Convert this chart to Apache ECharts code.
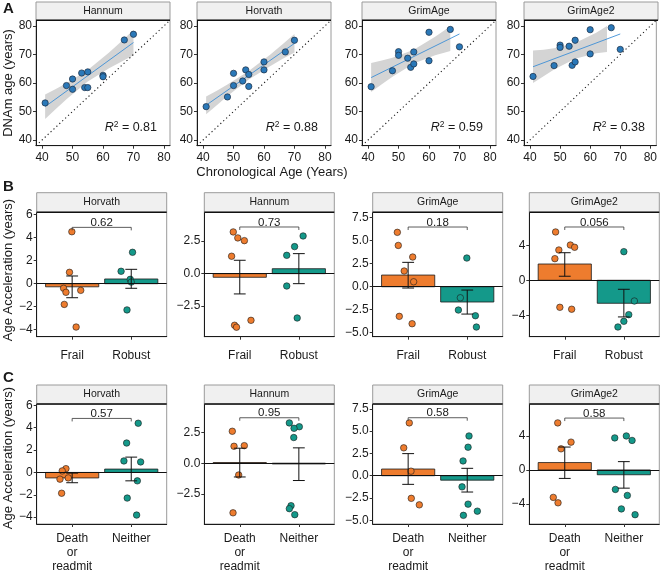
<!DOCTYPE html>
<html><head><meta charset="utf-8">
<script src="https://cdn.jsdelivr.net/npm/echarts@6/dist/echarts.min.js"></script>
<style>html,body{margin:0;padding:0;background:#fff}#c{width:660px;height:574px}</style>
</head><body><div id="c"></div>
<script>
// ---------------- Row A data ----------------
const rowAClocks = ['Hannum', 'Horvath', 'GrimAge', 'GrimAge2'];
const axisTicksA = [40, 50, 60, 70, 80];
const identityLine = [[38, 38], [82, 82]];
const chronAge = [41, 48, 50, 50, 53, 54, 55, 55, 60, 60, 67, 70];
const hannumDNAm = [53.0, 59.1, 61.4, 57.8, 63.5, 58.4, 63.9, 58.4, 62.7, 62.2, 75.1, 77.1];
const horvathDNAm = [51.7, 55.1, 63.4, 59.1, 60.7, 64.6, 63.0, 58.8, 67.4, 64.6, 70.9, 75.0];
const grimAgeDNAm = [58.7, 64.3, 71.0, 69.7, 68.7, 65.5, 70.9, 66.7, 77.8, 67.8, 78.8, 72.7];
const grimAge2DNAm = [62.3, 66.1, 73.3, 72.5, 72.9, 66.2, 75.0, 67.4, 78.7, 70.2, 79.4, 71.8];
const fitX = [41, 70];
const hannumFit = [51.7, 74.2];
const horvathFit = [52.2, 73.9];
const grimAgeFit = [61.9, 77.2];
const grimAge2Fit = [65.7, 77.2];
const hannumBandX = [41, 44.5, 48, 55, 62, 66, 70];
const hannumBandLo = [47.4, 50.9, 54.3, 60.5, 65.2, 67.5, 69.7];
const hannumBandHi = [56.0, 57.9, 59.9, 64.6, 70.7, 74.6, 78.6];
const horvathBandX = [41, 44.5, 48, 55, 62, 66, 70];
const horvathBandLo = [49.0, 52.2, 55.4, 61.2, 65.9, 68.4, 70.7];
const horvathBandHi = [55.3, 57.3, 59.5, 64.2, 69.9, 73.5, 77.2];
const grimAgeBandX = [41, 44.5, 48, 55, 62, 65, 67];
const grimAgeBandLo = [56.8, 59.6, 62.2, 66.8, 69.7, 70.6, 71.2];
const grimAgeBandHi = [67.0, 67.9, 68.9, 71.7, 76.2, 78.4, 80.0];
const grimAge2BandX = [41, 44.5, 48, 55, 62, 65.6];
const grimAge2BandLo = [60.0, 62.4, 64.7, 68.5, 70.4, 70.9];
const grimAge2BandHi = [71.4, 71.7, 72.2, 74.0, 77.6, 80.0];
const r2Labels = ['0.81', '0.88', '0.59', '0.38'];

// ---------------- Rows B / C data ----------------
const groupClocks = ['Horvath', 'Hannum', 'GrimAge', 'GrimAge2'];
const frailtyLabels = ['Frail', 'Robust'];
const outcomeLabels = ['Death\nor\nreadmit', 'Neither'];
const yTicksBC = [[-4, -2, 0, 2, 4, 6], [-2.5, 0, 2.5], [-5, -2.5, 0, 2.5, 5, 7.5], [-4, 0, 4]];
const yDecimals = [0, 1, 1, 0];
const yRangeB = [[-4.61, 6.21], [-4.85, 4.72], [-5.43, 8.09], [-6.45, 7.77]];
const yRangeC = [[-4.61, 6.12], [-4.95, 4.82], [-5.42, 8.05], [-6.38, 7.78]];

const frailMeans = [[-0.27, 0.41], [-0.28, 0.38], [1.27, -1.66], [1.86, -2.63]];
const frailErrLo = [[-1.22, -0.40], [-1.56, -0.77], [-0.14, -2.97], [0.46, -4.19]];
const frailErrHi = [[0.67, 1.25], [1.03, 1.54], [2.65, -0.36], [3.15, -1.03]];
const frailPValues = ['0.62', '0.73', '0.18', '0.056'];
const frailBracketY = [4.9, 3.59, 6.49, 6.09];
const frailPoints = [
  [[0.995, 4.52], [0.955, 0.99], [0.855, -0.40], [0.895, -0.75], [1.145, -0.58], [0.867, -1.80], [1.067, -3.77]],
  [[0.89, 3.21], [0.967, 2.75], [1.078, 2.54], [0.862, 1.34], [0.912, -3.97], [0.945, -4.12], [1.19, -3.59]],
  [[0.817, 5.91], [0.833, 4.49], [1.077, 3.23], [0.933, 1.71], [1.093, 0.54], [0.85, -3.22], [1.067, -4.02]],
  [[0.845, 5.52], [1.095, 4.03], [1.167, 3.77], [0.9, 3.46], [0.833, 2.47], [0.917, -3.09], [1.117, -3.31]]
];
const robustPoints = [
  [[2.022, 2.73], [1.828, 1.08], [1.983, 0.38], [2.0, 0.14], [1.928, -2.28]],
  [[2.072, 2.90], [1.928, 2.08], [1.795, 1.41], [1.795, -0.95], [1.972, -3.41]],
  [[1.993, 3.12], [1.883, -1.20], [1.85, -2.53], [2.138, -3.15], [2.155, -4.38]],
  [[2.0, 3.27], [2.178, -2.37], [2.083, -3.93], [2.0, -4.69], [1.9, -5.34]]
];

const outcomeMeans = [[-0.49, 0.30], [0.05, -0.06], [0.75, -0.50], [0.87, -0.57]];
const outcomeErrLo = [[-0.92, -0.75], [-1.12, -1.41], [-0.97, -1.83], [-1.00, -2.15]];
const outcomeErrHi = [[-0.06, 1.37], [1.22, 1.25], [2.48, 0.83], [2.70, 0.98]];
const outcomePValues = ['0.57', '0.95', '0.58', '0.58'];
const outcomeBracketY = [4.83, 3.7, 6.51, 6.12];
const deathPoints = [
  [[0.895, 0.34], [0.832, 0.14], [0.934, -0.49], [0.794, -0.60], [0.822, -1.86]],
  [[0.874, 2.60], [0.903, 1.38], [1.077, 1.43], [0.982, -0.96], [0.886, -4.04]],
  [[1.019, 5.93], [0.925, 3.13], [1.048, 0.51], [1.053, -2.54], [1.189, -3.27]],
  [[0.881, 5.55], [1.106, 3.28], [0.937, 2.49], [0.806, -3.24], [0.886, -3.88]]
];
const neitherPoints = [
  [[2.118, 4.40], [1.922, 2.63], [1.876, 1.03], [2.159, 0.94], [2.103, -0.75], [1.932, -2.29], [2.091, -3.81]],
  [[1.839, 3.28], [2.008, 2.97], [1.919, 2.84], [1.914, 2.09], [1.868, -3.46], [1.839, -3.70], [1.931, -4.19]],
  [[2.03, 4.46], [2.014, 3.20], [1.929, 1.66], [1.912, -1.25], [2.014, -3.19], [2.171, -3.98], [1.935, -4.45]],
  [[2.042, 4.01], [1.846, 3.78], [2.139, 3.48], [1.857, -2.30], [2.059, -3.01], [1.958, -4.60], [2.19, -5.28]]
];

// ---------------- styling / layout ----------------
const FONT = '"Liberation Sans", Arial, Helvetica, sans-serif';
const TXT = '#1a1a1a';
const ORANGE = '#EE7C2E';
const TEAL = '#14998A';
const groupColors = [ORANGE, TEAL];

const grids = [], xAxes = [], yAxes = [], series = [], graphics = [];

function addStrip(left, top, width, height, text) {
  graphics.push({type: 'rect', silent: true, z: 10,
    shape: {x: left, y: top, width: width, height: height},
    style: {fill: '#f0f0f0', stroke: '#9a9a9a', lineWidth: 1}});
  graphics.push({type: 'line', silent: true, z: 11,
    shape: {x1: left, y1: top + height, x2: left + width, y2: top + height},
    style: {stroke: '#111', lineWidth: 1.6}});
  graphics.push({type: 'text', silent: true, z: 12, x: left + width / 2, y: top + height / 2,
    style: {text: text, fill: TXT, font: '10.5px ' + FONT,
      textAlign: 'center', textVerticalAlign: 'middle', align: 'center', verticalAlign: 'middle'}});
}
function addText(x, y, text, size, opts) {
  opts = opts || {};
  graphics.push(Object.assign({type: 'text', silent: true, z: 12, x: x, y: y,
    style: {text: text, fill: TXT, font: (opts.bold ? 'bold ' : '') + size + 'px ' + FONT,
      textAlign: opts.align || 'center', align: opts.align || 'center',
      textVerticalAlign: opts.valign || 'middle', verticalAlign: opts.valign || 'middle',
      rich: opts.rich}}, opts.rotation !== undefined ? {rotation: opts.rotation} : {}));
}
function baseAxis(g, min, max, ticks, fmt, margin, lh) {
  return {gridIndex: g, type: 'value', min: min, max: max,
    axisLine: {show: true, onZero: false, lineStyle: {color: TXT, width: 1}},
    axisTick: {show: true, length: 3, customValues: ticks, lineStyle: {color: '#333', width: 1}},
    axisLabel: {customValues: ticks, formatter: fmt, color: TXT, fontSize: 12, fontFamily: FONT,
      margin: margin, lineHeight: lh || 14},
    splitLine: {show: false}};
}
function fmtNum(v, dec) { const s = Math.abs(v).toFixed(dec); return (v < -1e-9 ? '\u2212' : '') + s; }

// ---------------- Row A ----------------
const aLefts = [36, 197, 362, 524];
const aTop = 20.3, aW = 134, aH = 125.4;
const aY = [hannumDNAm, horvathDNAm, grimAgeDNAm, grimAge2DNAm];
const aFit = [hannumFit, horvathFit, grimAgeFit, grimAge2Fit];
const aBX = [hannumBandX, horvathBandX, grimAgeBandX, grimAge2BandX];
const aBLo = [hannumBandLo, horvathBandLo, grimAgeBandLo, grimAge2BandLo];
const aBHi = [hannumBandHi, horvathBandHi, grimAgeBandHi, grimAge2BandHi];

rowAClocks.forEach((name, i) => {
  const g = grids.length;
  grids.push({left: aLefts[i], top: aTop, width: aW, height: aH, show: true,
    borderColor: '#9a9a9a', borderWidth: 1, containLabel: false});
  xAxes.push(baseAxis(g, 38, 82, axisTicksA, v => String(v), 5));
  yAxes.push(baseAxis(g, 38, 82, axisTicksA, v => String(v), 4));
  addStrip(aLefts[i], 2, aW, aTop - 2, name);
  const bx = aBX[i], lo = aBLo[i], hi = aBHi[i];
  series.push({type: 'custom', xAxisIndex: g, yAxisIndex: g, z: 1, silent: true,
    data: bx.map((x, k) => [x, lo[k], hi[k]]), encode: {x: 0, y: [1, 2]},
    renderItem: (params, api) => {
      if (params.dataIndex !== 0) return null;
      const pts = [];
      for (let k = 0; k < bx.length; k++) pts.push(api.coord([bx[k], hi[k]]));
      for (let k = bx.length - 1; k >= 0; k--) pts.push(api.coord([bx[k], lo[k]]));
      return {type: 'polygon', shape: {points: pts}, style: {fill: '#d4d4d4'}};
    }});
  series.push({type: 'line', xAxisIndex: g, yAxisIndex: g, z: 2, silent: true, symbol: 'none',
    data: identityLine, lineStyle: {color: TXT, width: 1.1, type: [1.2, 2.8]}});
  series.push({type: 'line', xAxisIndex: g, yAxisIndex: g, z: 3, silent: true, symbol: 'none',
    data: fitX.map((x, k) => [x, aFit[i][k]]), lineStyle: {color: '#3d8fd6', width: 0.9}});
  series.push({type: 'scatter', xAxisIndex: g, yAxisIndex: g, z: 4, silent: true, symbolSize: 6.3,
    data: chronAge.map((x, k) => [x, aY[i][k]]),
    itemStyle: {color: '#2a78b8', borderColor: '#1c2e44', borderWidth: 0.7, opacity: 1}});
  addText(aLefts[i] + aW - 13, 128, '{i|R}{s|2}{n| = ' + r2Labels[i] + '}', 12,
    {align: 'right', rich: {
      i: {fontStyle: 'italic', fontSize: 12.5, fontFamily: FONT, fill: TXT, color: TXT, lineHeight: 16},
      s: {fontSize: 8.5, fontFamily: FONT, fill: TXT, color: TXT, lineHeight: 16, verticalAlign: 'top', padding: [0, 0, 7, 0]},
      n: {fontSize: 12.5, fontFamily: FONT, fill: TXT, color: TXT, lineHeight: 16}}});
});

// ---------------- Rows B, C ----------------
const bcLefts = [36.7, 204.3, 372.7, 529.3];
const bcW = 130;
function addGroupRow(top, height, stripTop, ranges, labels, means, errLo, errHi, pvals, bracketY, pts1, pts2, labelMargin) {
  groupClocks.forEach((name, i) => {
    const g = grids.length;
    grids.push({left: bcLefts[i], top: top, width: bcW, height: height, show: true,
      borderColor: '#9a9a9a', borderWidth: 1});
    xAxes.push(baseAxis(g, 0.4, 2.6, [1, 2], v => labels[Math.round(v) - 1], labelMargin, 14));
    yAxes.push(baseAxis(g, ranges[i][0], ranges[i][1], yTicksBC[i], v => fmtNum(v, yDecimals[i]), 4));
    addStrip(bcLefts[i], stripTop, bcW, top - stripTop, name);
    series.push({type: 'custom', xAxisIndex: g, yAxisIndex: g, z: 2, silent: true,
      data: means[i].map((m, k) => [k + 1, m]), encode: {x: 0, y: 1},
      renderItem: (params, api) => {
        const x = api.value(0), v = api.value(1);
        const p0 = api.coord([x - 0.45, v]), p1 = api.coord([x + 0.45, 0]);
        return {type: 'rect', shape: {x: p0[0], y: Math.min(p0[1], p1[1]), width: p1[0] - p0[0],
          height: Math.abs(p1[1] - p0[1])},
          style: {fill: groupColors[params.dataIndex], stroke: '#1a1a1a', lineWidth: 0.8}};
      },
      markLine: {silent: true, symbol: 'none', label: {show: false},
        lineStyle: {color: '#111', width: 1, type: 'solid'}, data: [{yAxis: 0}]}});
    [pts1[i], pts2[i]].forEach((pts, k) => {
      series.push({type: 'scatter', xAxisIndex: g, yAxisIndex: g, z: 4, silent: true, symbolSize: 6.5,
        data: pts, itemStyle: {color: groupColors[k], borderColor: '#1a1a1a', borderWidth: 0.6, opacity: 1}});
    });
    series.push({type: 'custom', xAxisIndex: g, yAxisIndex: g, z: 5, silent: true,
      data: means[i].map((m, k) => [k + 1, errLo[i][k], errHi[i][k]]), encode: {x: 0, y: [1, 2]},
      renderItem: (params, api) => {
        const x = api.value(0), lo = api.value(1), hi = api.value(2);
        const a = api.coord([x, lo]), b = api.coord([x, hi]);
        const l1 = api.coord([x - 0.1, lo]), r1 = api.coord([x + 0.1, lo]);
        const l2 = api.coord([x - 0.1, hi]), r2 = api.coord([x + 0.1, hi]);
        const st = {stroke: '#111', lineWidth: 1};
        return {type: 'group', children: [
          {type: 'line', shape: {x1: a[0], y1: a[1], x2: b[0], y2: b[1]}, style: st},
          {type: 'line', shape: {x1: l1[0], y1: l1[1], x2: r1[0], y2: r1[1]}, style: st},
          {type: 'line', shape: {x1: l2[0], y1: l2[1], x2: r2[0], y2: r2[1]}, style: st}]};
      }});
    series.push({type: 'custom', xAxisIndex: g, yAxisIndex: g, z: 5, silent: true,
      data: [[1.5, bracketY[i]]], encode: {x: 0, y: 1},
      renderItem: (params, api) => {
        const yb = api.value(1);
        const a = api.coord([1, yb]), b = api.coord([2, yb]), m = api.coord([1.5, yb]);
        return {type: 'group', children: [
          {type: 'polyline', shape: {points: [[a[0], a[1] + 3], a, b, [b[0], b[1] + 3]]},
            style: {stroke: '#333', lineWidth: 0.8, fill: null}},
          {type: 'text', style: {text: pvals[i], x: m[0], y: a[1] + 1.5, fill: TXT,
            font: '11.5px ' + FONT, textAlign: 'center', align: 'center',
            textVerticalAlign: 'bottom', verticalAlign: 'bottom'}}]};
      }});
  });
}
addGroupRow(212.3, 124.4, 192.7, yRangeB, frailtyLabels, frailMeans, frailErrLo, frailErrHi,
  frailPValues, frailBracketY, frailPoints, robustPoints, 12);
addGroupRow(404, 125, 385, yRangeC, outcomeLabels, outcomeMeans, outcomeErrLo, outcomeErrHi,
  outcomePValues, outcomeBracketY, deathPoints, neitherPoints, 8);

// ---------------- titles ----------------
addText(3, 9, 'A', 15, {bold: true, align: 'left'});
addText(3, 187, 'B', 15, {bold: true, align: 'left'});
addText(3, 378, 'C', 15, {bold: true, align: 'left'});
addText(8, 83, 'DNAm age (years)', 13, {rotation: Math.PI / 2});
addText(8, 270, 'Age Acceleration (years)', 13, {rotation: Math.PI / 2});
addText(8, 458, 'Age Acceleration (years)', 13, {rotation: Math.PI / 2});
addText(272, 172, 'Chronological Age (Years)', 13);

const chart = echarts.init(document.getElementById('c'), null, {renderer: 'canvas'});
chart.setOption({
  animation: false,
  backgroundColor: '#fff',
  grid: grids, xAxis: xAxes, yAxis: yAxes, series: series,
  graphic: {elements: graphics}
});
</script></body></html>
